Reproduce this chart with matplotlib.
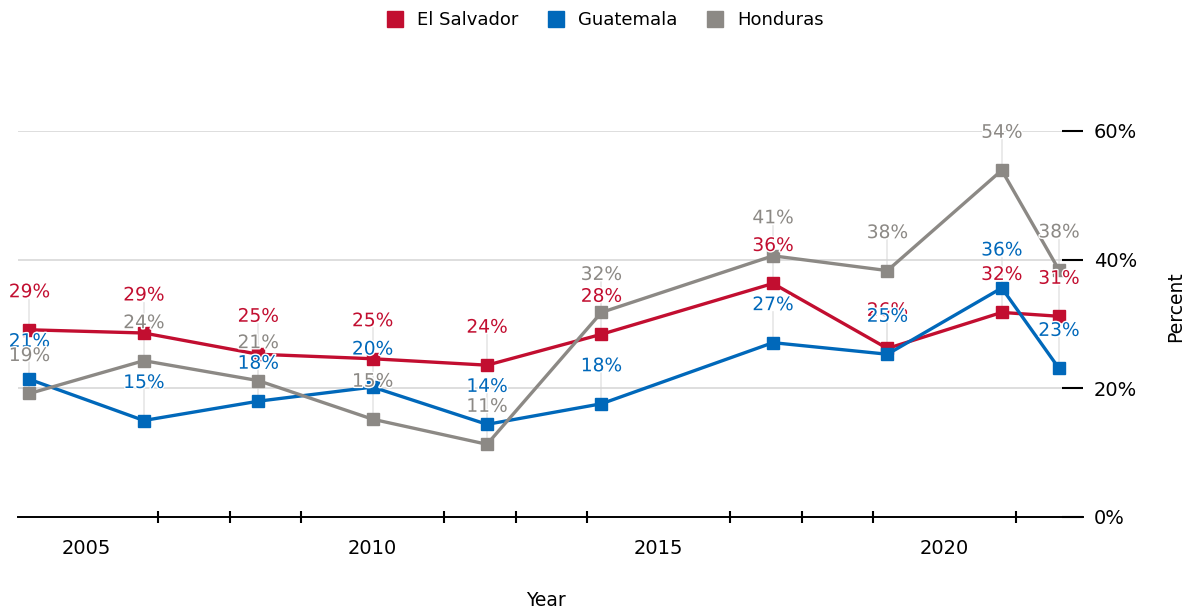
import matplotlib
matplotlib.use("Agg")
import matplotlib.pyplot as plt
import matplotlib.patheffects as pe
from matplotlib.lines import Line2D
from matplotlib.ticker import FixedLocator, FuncFormatter

# ── data ──────────────────────────────────────────────────────────────────────
years = [2004, 2006, 2008, 2010, 2012, 2014, 2017, 2019, 2021, 2022]
el_salvador = [29.1, 28.6, 25.3, 24.6, 23.6, 28.4, 36.3, 26.2, 31.8, 31.2]
guatemala = [21.4, 15.0, 18.0, 20.2, 14.4, 17.6, 27.1, 25.3, 35.6, 23.1]
honduras = [19.2, 24.3, 21.2, 15.2, 11.3, 31.8, 40.6, 38.3, 53.9, 38.4]

series_names = ["El Salvador", "Guatemala", "Honduras"]
series_colors = ["#C20E30", "#0068BA", "#8C8985"]
x_major = [2005, 2010, 2015, 2020]
y_ticks = [0, 20, 40, 60]

# ── figure ────────────────────────────────────────────────────────────────────
W, H = 1186, 608
fig = plt.figure(figsize=(W / 100, H / 100), dpi=100)
ax = fig.add_axes([18 / W, (H - 517) / H, (1083 - 18) / W, (517 - 131) / H])
ax.set_xlim(2003.8, 2022.42)
ax.set_ylim(0, 60)

for s in ("top", "left", "right"):
    ax.spines[s].set_visible(False)
ax.spines["bottom"].set_linewidth(1.4)
ax.spines["bottom"].set_color("black")

ax.yaxis.tick_right()
ax.yaxis.set_major_locator(FixedLocator(y_ticks))
ax.yaxis.set_major_formatter(FuncFormatter(lambda v, _: f"{v:.0f}%"))
ax.tick_params(axis="y", direction="in", length=15, width=1.5, pad=8,
               labelsize=14, color="black")
ax.grid(axis="y", color="#d4d4d4", linewidth=1.1, zorder=0)

ax.xaxis.set_major_locator(FixedLocator(x_major))
ax.xaxis.set_minor_locator(FixedLocator(
    [m + k * 1.25 for m in (2005, 2010, 2015, 2020) for k in (1, 2, 3)]))
ax.tick_params(axis="x", which="major", length=0, pad=16, labelsize=14)
ax.tick_params(axis="x", which="minor", direction="inout", length=8, width=1.5,
               color="black")

# pixels per data unit on y, for the label offset
ypx = (517 - 131) / 60.0
lbl_off = 38 / ypx  # label centre above point (data units)

all_series = [el_salvador, guatemala, honduras]

# faint leader lines from each point up to its label
for vals, color in zip(all_series, series_colors):
    for x, v in zip(years, vals):
        ax.plot([x, x], [v, v + lbl_off - 1.2], color="#e6e6e6", lw=1.2,
                zorder=1, clip_on=False)

for i, (vals, color) in enumerate(zip(all_series, series_colors)):
    ax.plot(years, vals, color=color, lw=2.4, marker="s", markersize=8,
            zorder=3 + i, clip_on=False)

for i, (vals, color) in enumerate(zip(all_series, series_colors)):
    for x, v in zip(years, vals):
        ax.text(x, v + lbl_off, f"{v:.0f}%", color=color, fontsize=13.4,
                ha="center", va="center", zorder=10 + i, clip_on=False,
                path_effects=[pe.withStroke(linewidth=2, foreground="white")])

# legend
handles = [Line2D([], [], color=c, marker="s", linestyle="none", markersize=11)
           for c in series_colors]
fig.legend(handles, series_names, loc="center", ncol=3, frameon=False,
           bbox_to_anchor=(605 / W, 1 - 20 / H), fontsize=13,
           handlelength=1.0, handletextpad=0.7, columnspacing=1.6)

fig.text(546 / W, 1 - 600 / H, "Year", ha="center", va="center", fontsize=13.5)
fig.text(1176 / W, 1 - 307 / H, "Percent", ha="center", va="center",
         rotation=90, fontsize=13.5)

fig.savefig("out.png", dpi=100)
